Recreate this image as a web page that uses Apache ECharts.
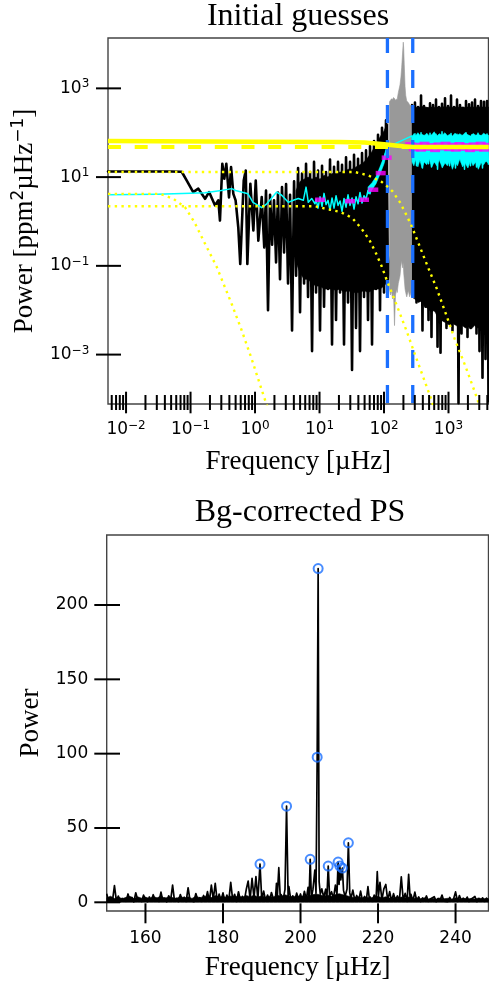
<!DOCTYPE html>
<html>
<head>
<meta charset="utf-8">
<script src="https://cdn.jsdelivr.net/npm/echarts@6/dist/echarts.min.js"></script>
<style>
html,body{margin:0;padding:0;background:#ffffff;}
#chart{width:489px;height:983px;}
</style>
</head>
<body>
<div id="chart"></div>
<script>
// ---------------- data ----------------
const topXTickLabels = [0.01, 0.1, 1, 10, 100, 1000];
const topXMinorTicks = [0.006,0.007,0.008,0.009, 0.02,0.03,0.04,0.05,0.06,0.07,0.08,0.09,
  0.2,0.3,0.4,0.5,0.6,0.7,0.8,0.9, 2,3,4,5,6,7,8,9, 20,30,40,50,60,70,80,90,
  200,300,400,500,600,700,800,900, 2000,3000,4000];
const topYTickLabels = [0.001, 0.1, 10, 1000];
const bottomXTickLabels = [160, 180, 200, 220, 240];
const bottomYTickLabels = [0, 50, 100, 150, 200];

// black: power spectrum [frequency µHz, power]
const powerSpectrumLow = [[0.00525,13.4],[0.02,13.4],[0.05,13.4],[0.073,13.2],[0.087,8.4],[0.11,4.6],[0.132,5.5],[0.168,3.25],[0.194,4.6],[0.24,2.3],[0.27,3.0],[0.286,1.05],[0.311,20],[0.334,9.2],[0.359,20],[0.395,3.5],[0.425,16.8],[0.461,4.2],[0.5,3.0],[0.55,0.74],[0.59,0.11],[0.668,8.4],[0.718,14],[0.76,0.11],[0.846,7.1],[0.942,0.63],[1.026,8.4],[1.125,0.37],[1.27,3.55],[1.39,0.26]];
const powerSpectrumMid = [[1.48,5],[1.59,0.01],[1.71,4],[1.84,0.3],[1.97,3],[2.12,0.12],[2.27,4.5],[2.44,0.05],[2.62,6],[2.82,0.2],[3.03,7],[3.25,0.04],[3.49,4],[3.75,0.0035],[4.03,8],[4.33,0.06],[4.65,16],[4.99,0.009],[5.36,12],[5.76,0.04],[6.18,20],[6.64,0.02],[7.13,13],[7.66,0.0012],[8.22,22],[8.83,0.025],[9.48,14],[10.18,0.0035],[10.94,18],[11.75,0.012],[12.62,13],[13.55,0.03],[14.55,25],[15.63,0.0017],[16.79,17],[18.03,0.006],[19.36,22],[20.8,0.025],[22.34,19],[23.99,0.0017],[25.77,28],[27.67,0.015],[29.72,22],[31.92,0.00045],[34.28,32],[36.82,0.004],[39.55,26],[42.47,0.0012],[45.61,35],[48.99,0.02],[52.6,40],[56.5,0.006],[60.7,50],[65.2,0.0017],[70.0,65],[75.2,0.03],[80.7,90],[86.7,0.01],[93.1,130],[100,0.025],[107.4,190],[115.3,0.05]];
const powerSpectrumHigh = [[272,420],[287,0.02],[302,480],[319,0.015],[337,380],[355,0.025],[375,690],[395,0.0035],[417,400],[440,0.012],[464,350],[490,0.006],[517,460],[545,0.0025],[575,420],[607,0.01],[640,560],[676,0.0015],[713,380],[752,0.0011],[793,450],[837,0.006],[883,600],[931,0.004],[983,400],[1037,0.007],[1094,690],[1154,0.0035],[1217,380],[1284,0.005],[1355,560],[1430,0.00008],[1508,420],[1591,0.003],[1679,360],[1771,0.005],[1868,520],[1971,0.0025],[2080,440],[2194,0.004],[2315,480],[2442,0.006],[2576,560],[2718,0.003],[2868,400],[3025,0.0012],[3192,520],[3367,0.0003],[3552,500],[3748,0.0008],[3954,520],[4171,0.00009]];
// dense part of the black spectrum: [frequency, upper edge, lower edge]
const spectrumBodyMid = [[4.33,5,0.12],[4.99,8,0.07],[5.76,9,0.05],[6.64,10,0.05],[7.66,9,0.04],[8.83,10,0.035],[10.18,9,0.035],[11.75,11,0.03],[13.55,10,0.03],[15.63,12,0.03],[18.03,12,0.028],[20.8,13,0.03],[23.99,13,0.025],[27.67,15,0.028],[31.92,15,0.025],[36.82,17,0.025],[42.47,19,0.025],[48.99,22,0.028],[56.5,28,0.025],[65.2,38,0.028],[75.2,55,0.03],[86.7,80,0.03],[100,110,0.035],[107.4,140,0.04],[115.3,160,0.045]];
const spectrumBodyHigh = [[270,350,0.02],[300,380,0.018],[340,370,0.015],[380,390,0.016],[430,380,0.012],[480,370,0.011],[540,380,0.009],[600,375,0.01],[680,380,0.007],[760,370,0.006],[850,385,0.0055],[950,375,0.005],[1060,380,0.0045],[1180,370,0.005],[1320,385,0.0045],[1470,375,0.004],[1640,380,0.0045],[1830,370,0.004],[2040,385,0.0042],[2280,375,0.0038],[2540,380,0.0045],[2840,370,0.004],[3170,385,0.0042],[3540,375,0.0038],[3950,380,0.0045],[4171,380,0.004]];
// grey: power excess region [frequency, upper edge, lower edge]
const powerExcess = [[121.7,500,0.03],[126.1,540,0.022],[130.7,580,0.028],[135.4,560,0.018],[140.4,620,0.025],[145.5,590,0.0045],[150.8,540,0.022],[156.2,570,0.03],[160,560,0.025],[166.6,800,0.04],[177,1200,0.06],[183,1800,0.1],[188,3000,0.13],[195,7000,0.09],[199,11000,0.12],[202,8000,0.07],[206,3500,0.05],[212,1100,0.03],[217,700,0.025],[225,520,0.02],[238,480,0.028],[250,420,0.02],[262,380,0.025],[266.9,340,0.022]];
// cyan: smoothed spectrum
const smoothedSpectrum = [[0.00525,4.0],[0.03,4.1],[0.1,4.3],[0.168,4.45],[0.3,5.0],[0.435,5.5],[0.5,5.0],[0.778,4.2],[0.93,2.7],[1.27,2.05],[1.52,2.5],[2.17,4.6],[2.59,3.9],[3.28,2.7],[3.92,3.0],[4.69,3.3],[5.61,3.0],[6.18,5.95],[6.7,2.7],[7.57,3.3],[8.51,2.5],[8.83,3.2],[9.48,2.0],[10.18,3.6],[10.94,2.2],[11.75,4.3],[12.62,2.4],[13.55,3.0],[14.55,1.8],[15.63,3.4],[16.79,2.0],[18.03,3.8],[19.36,2.3],[20.8,2.9],[22.34,1.7],[23.99,3.3],[25.77,2.1],[27.67,4.0],[29.72,2.3],[31.92,3.4],[34.28,1.9],[36.82,3.6],[39.55,2.5],[42.47,4.5],[45.61,2.6],[48.99,3.8],[52.6,3.2],[56.5,5.0],[60.7,4.2],[65.2,6.5],[70.0,6.0],[75.2,9.0],[80.7,10.5],[86.7,15],[93.1,19],[100,26],[107.4,38],[115.3,48],[272,85],[287,22],[302,95],[319,18],[337,80],[355,26],[375,100],[395,16],[417,88],[440,24],[464,78],[490,20],[517,98],[545,17],[575,82],[607,25],[640,92],[676,15],[713,80],[752,22],[793,105],[837,19],[883,86],[931,27],[983,80],[1037,18],[1094,96],[1154,23],[1217,84],[1284,16],[1355,92],[1430,24],[1508,78],[1591,21],[1679,88],[1771,15],[1868,100],[1971,22],[2080,82],[2194,18],[2315,90],[2442,26],[2576,80],[2718,17],[2868,98],[3025,21],[3192,86],[3367,16],[3552,82],[3748,23],[3954,94],[4171,19]];
const smoothedBandRise = [[56.5,6,4.1],[65.2,7.5,5.2],[75.2,10.2,7.1],[86.7,17,11.7],[100,29,20],[107.4,43,30],[115.3,58,40]];
const smoothedBandHigh = [[272,80,22],[290,95,18],[310,85,25],[335,100,17],[360,88,24],[390,92,16],[420,84,22],[460,98,19],[500,86,26],[550,90,17],[600,105,22],[660,84,18],[720,95,25],[800,88,16],[880,100,21],[960,86,18],[1050,92,24],[1150,84,15],[1260,98,22],[1380,88,18],[1500,95,26],[1650,86,17],[1800,100,21],[2000,90,16],[2200,84,24],[2400,96,18],[2650,88,22],[2900,92,15],[3200,86,21],[3500,98,19],[3800,90,23],[4171,88,20]];
// magenta: binned spectrum
const binnedSpectrum = [[10.2,3.09],[29.7,2.87],[49,3.09],[68.2,5.2],[88.9,12.3],[110,27.4],[255,55],[290,43],[330,53],[375,42],[425,56],[480,44],[545,52],[620,41],[700,54],[790,45],[900,56],[1020,43],[1150,53],[1300,42],[1480,55],[1680,44],[1900,52],[2150,41],[2450,54],[2780,43],[3150,56],[3570,42],[4050,53]];
// yellow: background model
const modelTotal = [[0.00525,65],[1,63],[20,61.5],[50,60],[75,57],[100,55],[150,51.5],[200,49.5],[280,48],[500,47.6],[4171,47.5]];
const whiteNoise = [[0.00525,47.5],[4171,47.5]];
const harveyLow = [[0.00525,4.2],[0.0337,4.2],[0.054,3.25],[0.082,2.1],[0.115,0.96],[0.168,0.314],[0.255,0.094],[0.435,0.0138],[0.622,0.0035],[0.889,0.00079],[1.39,0.000107],[1.6,0.00006]];
const harveyMid = [[0.00525,2.2],[8.5,2.2],[14.6,1.84],[21.5,1.62],[32.3,1.19],[45.1,0.68],[59.2,0.386],[75.1,0.192],[92,0.098],[110,0.048],[132,0.025],[171,0.0095],[225,0.00334],[313,0.00087],[406,0.00031],[529,0.000107],[600,0.00006]];
const harveyHigh = [[0.00525,13],[35.5,13],[57.2,10.9],[72.5,9.2],[92,7.8],[112,6.2],[136,4.75],[177,2.7],[225,1.36],[275,0.72],[362,0.263],[481,0.093],[640,0.034],[905,0.0085],[1262,0.00214],[1820,0.00056],[2800,0.0001],[3100,0.00006]];
const excessLimits = [113, 279];

// bottom panel: background-corrected spectrum
const bgCorrected = [[150.0,5.8],[150.5,0.6],[151.0,3.1],[151.5,1.2],[152.0,11.2],[152.5,0.9],[153.0,4.2],[153.5,0.4],[154.0,2.6],[154.5,1.5],[155.0,0.7],[155.5,5.6],[156.0,1.1],[156.5,3.3],[157.0,0.3],[157.5,6.4],[158.0,1.6],[158.5,2.2],[159.0,0.5],[159.5,4.8],[160.0,1.9],[160.5,0.4],[161.0,3.6],[161.5,0.8],[162.0,5.1],[162.5,1.3],[163.0,2.4],[163.5,0.6],[164.0,6.8],[164.5,1.0],[165.0,3.0],[165.5,0.3],[166.0,4.4],[166.5,1.4],[167.0,11.5],[167.5,0.8],[168.0,2.7],[168.5,0.5],[169.0,5.2],[169.5,1.1],[170.0,3.4],[170.5,0.6],[171.0,9.8],[171.5,1.2],[172.0,2.5],[172.5,0.4],[173.0,5.9],[173.5,1.5],[174.0,3.1],[174.5,0.7],[175.0,4.6],[175.5,1.0],[176.0,7.2],[176.5,0.8],[177.0,11.6],[177.5,1.9],[178.0,12.8],[178.5,0.9],[179.0,5.5],[179.5,1.4],[180.0,6.3],[180.5,0.7],[181.0,4.8],[181.5,1.3],[182.0,13.4],[182.5,1.7],[183.0,5.4],[183.5,0.6],[184.0,7.1],[184.5,1.2],[185.0,4.0],[185.5,0.9],[186.0,8.6],[186.5,14.3],[187.0,2.2],[187.5,16.1],[188.0,3.0],[188.5,17.3],[189.0,1.8],[189.55,25.7],[190.0,2.1],[190.5,7.5],[191.0,1.0],[191.5,4.9],[192.0,0.8],[192.5,6.6],[193.0,2.4],[193.5,0.9],[193.8,12.8],[194.0,3.0],[194.4,23.3],[194.8,2.0],[195.0,5.2],[195.5,1.3],[196.0,8.7],[196.4,64.7],[196.8,3.5],[197.0,10.5],[197.5,1.5],[198.0,4.4],[198.5,0.8],[199.0,6.2],[199.5,1.9],[200.0,5.6],[200.5,0.9],[201.0,7.4],[201.5,2.0],[201.95,10.0],[202.2,1.5],[202.5,28.9],[202.8,3.0],[203.2,8.5],[203.7,21.7],[204.0,6.0],[204.3,97.6],[204.55,224.5],[204.8,14.0],[205.1,5.5],[205.5,9.0],[206.0,3.2],[206.5,8.8],[206.8,2.5],[207.15,24.4],[207.5,4.0],[208.0,7.1],[208.5,2.4],[209.0,11.5],[209.4,5.0],[209.7,27.1],[209.95,12.0],[210.15,24.4],[210.4,15.0],[210.6,20.0],[210.8,23.0],[211.1,8.0],[211.5,3.8],[212.0,9.0],[212.35,40.0],[212.7,6.5],[213.0,2.5],[213.5,8.2],[214.0,1.4],[214.5,4.6],[215.0,1.0],[215.5,7.5],[216.0,0.9],[216.5,3.9],[217.0,1.6],[217.4,10.5],[217.8,1.3],[218.0,3.5],[218.5,0.7],[219.0,4.8],[219.5,2.0],[219.8,20.6],[220.1,4.0],[220.5,13.5],[221.0,1.7],[221.5,9.0],[222.0,12.0],[222.5,1.2],[223.0,7.2],[223.5,0.9],[224.0,5.8],[224.5,1.5],[225.0,4.3],[225.5,0.8],[226.0,17.2],[226.5,1.4],[227.0,6.0],[227.5,0.6],[227.9,18.8],[228.3,2.0],[228.5,5.3],[229.0,1.0],[229.5,6.8],[230.0,0.7],[230.5,3.6],[231.0,0.5],[231.5,2.9],[232.0,1.1],[232.5,4.3],[233.0,0.6],[233.5,2.2],[234.0,0.9],[234.5,3.8],[235.0,0.4],[235.5,2.6],[236.0,1.2],[236.5,4.9],[237.0,0.7],[237.5,2.0],[238.0,0.5],[238.5,3.3],[239.0,1.0],[239.5,2.4],[240.0,7.0],[240.5,0.6],[241.0,4.5],[241.5,0.8],[242.0,2.7],[242.5,1.3],[243.0,3.5],[243.5,0.5],[244.0,2.1],[244.5,0.9],[245.0,3.9],[245.5,0.4],[246.0,2.5],[246.5,1.1],[247.0,3.0],[247.5,0.6],[248.0,2.8],[248.5,0.9]];
// dense noise floor of the corrected spectrum: [frequency, upper edge, lower edge]
const bgNoiseFloor = [[150,3.1,0],[151,4.1,0],[152,2.6,0],[153,3.6,0],[154,2.4,0],[155,3.4,0],[156,4.0,0],[157,2.5,0],[158,3.7,0],[159,2.8,0],[160,3.5,0],[161,2.6,0],[162,3.9,0],[163,3.0,0],[164,4.2,0],[165,2.7,0],[166,3.6,0],[167,3.2,0],[168,2.6,0],[169,4.0,0],[170,2.9,0],[171,3.7,0],[172,2.6,0],[173,4.1,0],[174,3.1,0],[175,3.8,0],[176,4.4,0],[177,3.2,0],[178,4.5,0],[179,3.4,0],[180,3.9,0],[181,3.1,0],[182,4.3,0],[183,3.5,0],[184,4.2,0],[185,3.4,0],[186,4.6,0],[187,3.8,0],[188,4.8,0],[189,3.6,0],[190,4.4,0],[191,3.5,0],[192,4.1,0],[193,3.6,0],[194,4.8,0],[195,4.0,0],[196,5.1,0],[197,4.2,0],[198,3.6,0],[199,4.4,0],[200,3.8,0],[201,4.6,0],[202,4.1,0],[203,5.0,0],[204,5.6,0],[205,5.1,0],[206,4.2,0],[207,4.8,0],[208,4.0,0],[209,5.2,0],[210,5.8,0],[211,5.0,0],[212,4.4,0],[213,3.6,0],[214,3.2,0],[215,3.8,0],[216,3.0,0],[217,3.6,0],[218,2.8,0],[219,3.5,0],[220,4.0,0],[221,3.1,0],[222,3.7,0],[223,2.9,0],[224,3.4,0],[225,2.7,0],[226,3.5,0],[227,3.0,0],[228,3.6,0],[229,2.6,0],[230,3.1,0],[231,2.4,0],[232,3.0,0],[233,2.3,0],[234,2.8,0],[235,2.2,0],[236,2.9,0],[237,2.4,0],[238,2.7,0],[239,2.1,0],[240,3.0,0],[241,2.4,0],[242,2.8,0],[243,2.2,0],[244,2.6,0],[245,2.3,0],[246,2.9,0],[247,2.2,0],[248,2.7,0],[248.5,2.4,0]];
const detectedPeaks = [[189.55,25.7],[196.4,64.7],[202.5,28.9],[204.3,97.6],[204.55,224.5],[207.15,24.4],[209.7,27.1],[210.15,24.4],[210.8,23.0],[212.35,40.0]];

// ---------------- styling / layout ----------------
const SANS = 'DejaVu Sans';
const SERIF = 'Liberation Serif';
const BLUE = '#1a6fff';
const TOP = {xMin: 0.00525, xMax: 4171, yMin: 7.7e-5, yMax: 13650};
const BOT = {xMin: 150, xMax: 248.5, yMin: -5.85, yMax: 247.1};

const supTen = v => { const e = Math.round(Math.log10(v)); return '{b|10}{s|' + (e < 0 ? '\u2212' : '') + Math.abs(e) + '}'; };
const logLabel = list => v => list.some(t => Math.abs(Math.log10(v) - Math.log10(t)) < 1e-6) ? supTen(v) : '';
const linLabel = list => v => list.some(t => Math.abs(v - t) < 1e-6) ? String(v) : '';
const supRich = {
  b: {fontFamily: SANS, fontSize: 17, lineHeight: 20, color: '#000'},
  s: {fontFamily: SANS, fontSize: 12, lineHeight: 12, verticalAlign: 'top', color: '#000'}
};

function ticks(xi, dir, items, inLen, outLen) {
  return {
    type: 'custom', xAxisIndex: xi, yAxisIndex: xi, z: 30, silent: true, clip: false,
    data: items,
    renderItem: (params, api) => {
      const p = api.coord([api.value(0), api.value(1)]);
      const shape = dir === 'x'
        ? {x1: p[0], y1: p[1] - inLen, x2: p[0], y2: p[1] + outLen}
        : {x1: p[0] - outLen, y1: p[1], x2: p[0] + inLen, y2: p[1]};
      return {type: 'line', shape: shape, style: {stroke: '#000', lineWidth: 2}};
    }
  };
}
// filled band between an upper and a lower edge, positioned through the axes
function band(rows, color, z, ai) {
  return {
    type: 'custom', xAxisIndex: ai || 0, yAxisIndex: ai || 0, z: z, silent: true, clip: true,
    data: rows,
    renderItem: (params, api) => {
      if (params.dataIndex !== 0) return null;
      const up = rows.map(r => api.coord([r[0], r[1]]));
      const dn = rows.map(r => api.coord([r[0], r[2]])).reverse();
      return {type: 'polygon', shape: {points: up.concat(dn)}, style: {fill: color, stroke: color, lineWidth: 0.6}};
    }
  };
}
const line = (data, color, width, type, z, extra) => ({
  type: 'line', xAxisIndex: 0, yAxisIndex: 0, data: data, showSymbol: false, symbol: 'none',
  z: z, silent: true, clip: true,
  lineStyle: Object.assign({color: color, width: width, type: type || 'solid', cap: 'butt', join: 'round'}, extra || {})
});

const blackData = powerSpectrumLow.concat(powerSpectrumMid, powerSpectrumHigh);

const series = [
  line(blackData, '#000', 2.6, 'solid', 2, {cap: 'round'}),
  band(spectrumBodyMid, '#000', 2),
  band(spectrumBodyHigh, '#000', 2),
  band(powerExcess, '#999999', 3),
  line(smoothedSpectrum, '#00ffff', 1.5, 'solid', 4),
  band(smoothedBandRise, '#00ffff', 4),
  band(smoothedBandHigh, '#00ffff', 4),
  {type: 'scatter', xAxisIndex: 0, yAxisIndex: 0, data: binnedSpectrum, symbol: 'rect', symbolSize: [10, 4.5],
   itemStyle: {color: '#ff00ff'}, z: 5, silent: true},
].concat(excessLimits.map(f => line([[f, TOP.yMax], [f, TOP.yMin]], BLUE, 3.3, [18, 17], 6, {dashOffset: 3})))
.concat([
  line(whiteNoise, '#ffff00', 4, [13, 13.7], 7),
  line(modelTotal, '#ffff00', 4.5, 'solid', 7),
  line(harveyLow, '#ffff00', 2.4, [2.4, 4.3], 7),
  line(harveyMid, '#ffff00', 2.4, [2.4, 4.3], 7),
  line(harveyHigh, '#ffff00', 2.4, [2.4, 4.3], 7),
  ticks(0, 'x', topXTickLabels.map(v => [v, TOP.yMin]), 12.3, 9.3),
  ticks(0, 'x', topXMinorTicks.map(v => [v, TOP.yMin]), 9, 6),
  ticks(0, 'y', topYTickLabels.map(v => [TOP.xMin, v]), 13, 12),
  band(bgNoiseFloor, '#000', 2, 1),
  {type: 'line', xAxisIndex: 1, yAxisIndex: 1, data: bgCorrected, showSymbol: false, symbol: 'none', z: 2, silent: true,
   lineStyle: {color: '#000', width: 1.7, join: 'round'}},
  {type: 'scatter', xAxisIndex: 1, yAxisIndex: 1, data: detectedPeaks, symbol: 'circle', symbolSize: 9, z: 5, silent: true,
   itemStyle: {color: 'rgba(0,0,0,0)', borderColor: BLUE, borderWidth: 2}},
  ticks(1, 'x', bottomXTickLabels.map(v => [v, BOT.yMin]), 7.7, 12.3),
  ticks(1, 'y', bottomYTickLabels.map(v => [BOT.xMin, v]), 13.3, 12.4)
]);

const axisNameStyle = {fontFamily: SERIF, fontSize: 27, color: '#000', lineHeight: 30};

const option = {
  animation: false,
  backgroundColor: '#ffffff',
  title: [
    {text: 'Initial guesses', left: 298, top: 1, textAlign: 'center', padding: 0,
     textStyle: {fontFamily: SERIF, fontSize: 32, fontWeight: 'normal', color: '#000'}},
    {text: 'Bg-corrected PS', left: 300, top: 496.5, textAlign: 'center', padding: 0,
     textStyle: {fontFamily: SERIF, fontSize: 32, fontWeight: 'normal', color: '#000'}}
  ],
  grid: [
    {left: 108, top: 38, right: 0.5, height: 366, show: true, borderColor: '#444', borderWidth: 1.4,
     backgroundColor: 'transparent', containLabel: false, outerBoundsMode: 'none'},
    {left: 106.7, top: 535, right: 0.5, height: 376, show: true, borderColor: '#444', borderWidth: 1.4,
     backgroundColor: 'transparent', containLabel: false, outerBoundsMode: 'none'}
  ],
  xAxis: [
    {type: 'log', logBase: 10, gridIndex: 0, min: TOP.xMin, max: TOP.xMax,
     axisLine: {show: false}, axisTick: {show: false}, splitLine: {show: false}, minorTick: {show: false},
     axisLabel: {formatter: logLabel(topXTickLabels), margin: 16, rich: supRich, fontFamily: SANS, fontSize: 17, color: '#000'},
     name: 'Frequency [\u00b5Hz]', nameLocation: 'middle', nameGap: 43, nameMoveOverlap: false,
     nameTextStyle: axisNameStyle},
    {type: 'value', gridIndex: 1, min: BOT.xMin, max: BOT.xMax,
     axisLine: {show: false}, axisTick: {show: false}, splitLine: {show: false},
     axisLabel: {formatter: linLabel(bottomXTickLabels), margin: 19.3, fontFamily: SANS, fontSize: 17, color: '#000'},
     name: 'Frequency [\u00b5Hz]', nameLocation: 'middle', nameGap: 41.5, nameMoveOverlap: false,
     nameTextStyle: axisNameStyle}
  ],
  yAxis: [
    {type: 'log', logBase: 10, gridIndex: 0, min: TOP.yMin, max: TOP.yMax,
     axisLine: {show: false}, axisTick: {show: false}, splitLine: {show: false}, minorTick: {show: false},
     axisLabel: {formatter: logLabel(topYTickLabels), margin: 18.7, rich: supRich, fontFamily: SANS, fontSize: 17, color: '#000'},
     name: 'Power [ppm{s|2}\u00b5Hz{s|\u22121}]', nameLocation: 'middle', nameGap: 68, nameMoveOverlap: false,
     nameTextStyle: Object.assign({}, axisNameStyle, {rich: {s: {fontFamily: SANS, fontSize: 17, lineHeight: 17, verticalAlign: 'top', color: '#000'}}})},
    {type: 'value', gridIndex: 1, min: BOT.yMin, max: BOT.yMax,
     axisLine: {show: false}, axisTick: {show: false}, splitLine: {show: false},
     axisLabel: {formatter: linLabel(bottomYTickLabels), margin: 18.5, fontFamily: SANS, fontSize: 17, color: '#000'},
     name: 'Power', nameLocation: 'middle', nameGap: 61, nameMoveOverlap: false,
     nameTextStyle: axisNameStyle}
  ],
  series: series
};

const chart = echarts.init(document.getElementById('chart'), null, {renderer: 'canvas'});
chart.setOption(option);
</script>
</body>
</html>
